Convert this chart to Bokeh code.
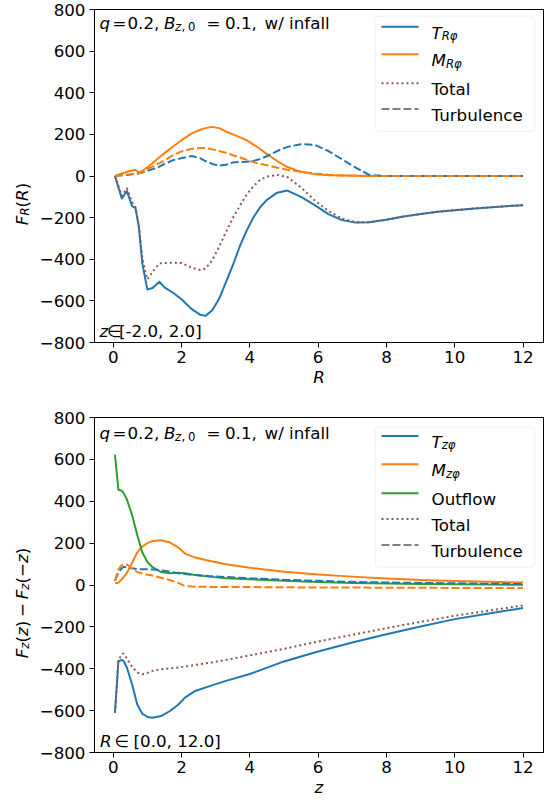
import math
from bokeh.plotting import figure
from bokeh.layouts import column, row
from bokeh.models import Range1d, FixedTicker, Label, Arrow, BoxAnnotation
from bokeh.embed import file_html
from bokeh.resources import INLINE

# ---------------- data: top panel (F_R vs R) ----------------
R_top = [0.05, 0.25, 0.4, 0.55, 0.65, 0.75, 0.85, 0.95, 1.0, 1.15, 1.35, 1.5, 1.75, 2.0,
         2.3, 2.55, 2.7, 2.9, 3.1, 3.3, 3.5, 3.7, 3.9, 4.1, 4.3, 4.5, 4.8, 5.1, 5.5, 5.9,
         6.3, 6.7, 7.1, 7.5, 8.0, 8.5, 9.0, 9.5, 10.0, 10.5, 11.0, 11.5, 12.0]
T_Rphi = [0, -108, -72, -145, -155, -245, -420, -505, -545, -538, -508, -535, -561, -592,
          -640, -667, -672, -645, -590, -510, -430, -340, -265, -200, -150, -115, -80, -70, -100, -140,
          -183, -212, -224, -222, -210, -195, -183, -172, -164, -157, -151, -145, -140]
M_Rphi = [0, 12, 20, 26, 30, 17, 25, 36, 42, 62, 90, 110, 142, 172,
          205, 222, 230, 236, 230, 214, 200, 187, 172, 152, 130, 105, 72, 43, 20, 9,
          4, 2, 1, 0, 0, 0, 0, 0, 0, 0, 0, 0, 0]
Total_R = [0, -95, -58, -125, -150, -240, -390, -470, -497, -460, -420, -418, -417, -418,
           -441, -452, -445, -405, -340, -270, -202, -145, -91, -50, -18, -3, 5, -5, -55, -118,
           -168, -205, -222, -222, -210, -195, -183, -172, -164, -157, -151, -145, -140]
T_Rphi_turb = [0, 3, 5, 8, 10, 13, 17, 22, 25, 33, 45, 58, 76, 86,
               96, 85, 72, 58, 50, 54, 65, 67, 68, 72, 82, 95, 120, 140, 153, 150,
               120, 80, 40, 5, 0, 0, 0, 0, 0, 0, 0, 0, 0]
M_Rphi_turb = [0, 4, 7, 9, 11, 13, 18, 28, 35, 45, 62, 75, 100, 118,
               131, 134, 134, 128, 120, 112, 100, 90, 78, 67, 58, 52, 40, 30, 20, 11,
               6, 3, 1, 0, 0, 0, 0, 0, 0, 0, 0, 0, 0]

# ---------------- data: bottom panel (F_z(z) - F_z(-z) vs z) ----------------
z_bot = [0.05, 0.15, 0.25, 0.3, 0.4, 0.55, 0.7, 0.85, 1.0, 1.15, 1.4, 1.65, 1.9, 2.1,
         2.4, 2.8, 3.3, 4, 5, 6, 7, 8, 9, 10, 11, 12]
T_zphi = [-610, -363, -358, -362, -395, -474, -570, -615, -630, -634, -626, -603, -572, -538,
          -506, -484, -458, -425, -365, -318, -275, -235, -198, -163, -136, -110]
M_zphi = [8, 11, 28, 37, 58, 105, 155, 184, 200, 210, 214, 204, 180, 150,
          131, 116, 99, 82, 63, 50, 40, 31, 24, 19, 15, 12]
Outflow_z = [623, 455, 450, 440, 408, 335, 240, 155, 110, 85, 62, 56, 59, 56,
             48, 40, 32, 27, 20, 14, 10, 7, 5, 3, 2, 1]
Total_z = [-610, -363, -330, -327, -352, -390, -418, -426, -420, -410, -402, -398, -394, -390,
           -382, -372, -358, -336, -305, -270, -238, -206, -176, -147, -122, -98]
T_zphi_turb = [20, 60, 80, 86, 86, 80, 76, 75, 75, 74, 70, 64, 56, 52,
               48, 43, 38, 32, 25, 20, 15, 12, 10, 8, 6, 5]
M_zphi_turb = [20, 75, 95, 99, 98, 78, 62, 55, 49, 45, 35, 24, 10, -5,
               -8, -9, -10, -10, -11, -12, -12, -13, -13, -14, -14, -14]

x_ticks = [0, 2, 4, 6, 8, 10, 12]
y_ticks = [-800, -600, -400, -200, 0, 200, 400, 600, 800]
y_tick_labels = {t: ("\u2212" + str(-t)) if t < 0 else str(t) for t in y_ticks}

C0, C1, C2, C5, C7 = "#1f77b4", "#ff7f0e", "#2ca02c", "#8c564b", "#7f7f7f"
FONT = "DejaVu Sans"
FS = 16.7
SUB = 11.7
DOT = "2 3"
DASH = "8 3"
DY = -5.5      # empirical vertical correction for horizontal screen-unit labels / legend lines
VX = -8.0      # empirical sideways correction for the rotated y-axis label pieces
LW = 36        # width of the strip that holds the rotated y-axis labels

EM = {' ': 0.318, '.': 0.318, ',': 0.318, '=': 0.838, '(': 0.390, ')': 0.390,
      '[': 0.390, ']': 0.390, '-': 0.361, '\u2212': 0.838, '\u2208': 0.871, '/': 0.337,
      'F': 0.575, 'R': 0.695, 'z': 0.525, 'T': 0.611, 'M': 0.863, 'B': 0.686, 'q': 0.635,
      '\u03c6': 0.66, 'w': 0.818, 'i': 0.278, 'n': 0.634, 'f': 0.352, 'a': 0.613, 'l': 0.278}
for d in "0123456789":
    EM[d] = 0.636


def tw(s, size):
    return sum(EM.get(c, 0.6) for c in s) * size


def put(p, fb, X, Y, txt, ital=False, size=FS):
    # X, Y: page pixel coordinates (y down) of the text origin; fb = (frame_left, frame_bottom)
    p.add_layout(Label(x=X - fb[0], y=fb[1] - (Y + DY), x_units="screen", y_units="screen",
                       text=txt, text_font=FONT, text_font_size=f"{size}px",
                       text_font_style="italic" if ital else "normal", text_color="black",
                       text_align="left", text_baseline="alphabetic"))


def rich(p, fb, X, Y, pieces):
    pos = 0.0
    for txt, ital, size, shift, extra in pieces:
        if txt:
            put(p, fb, X + pos, Y + shift, txt, ital, size)
        pos += tw(txt, size) + extra


def vrich(s, to_data, X, Yc, pieces):
    # rotated (reading upwards) label centred on page-y Yc; baseline at page-x X
    L = sum(tw(t, sz) + e for t, _, sz, _, e in pieces)
    pos = Yc + L / 2
    for txt, ital, size, shift, extra in pieces:
        s.add_layout(Label(x=X + shift + VX, y=to_data(pos), x_units="data", y_units="data",
                           text=txt, angle=math.pi / 2, text_font=FONT, text_font_size=f"{size}px",
                           text_font_style="italic" if ital else "normal", text_color="black",
                           text_align="left", text_baseline="alphabetic"))
        pos -= tw(txt, size) + extra


def legend(p, fb, box, rows):
    x0, y0, x1, y1 = box
    p.add_layout(BoxAnnotation(left=x0 - fb[0], right=x1 - fb[0], top=fb[1] - y0, bottom=fb[1] - y1,
                               left_units="screen", right_units="screen", top_units="screen",
                               bottom_units="screen", fill_color="white", fill_alpha=0.8,
                               line_color="#cccccc", line_width=1, border_radius=4))
    for yc, color, dash, pieces in rows:
        ys = fb[1] - (yc + DY)
        p.add_layout(Arrow(end=None, x_start=381 - fb[0], y_start=ys, x_end=418 - fb[0],
                           y_end=ys, start_units="screen", end_units="screen",
                           line_color=color, line_width=2, line_dash=dash))
        rich(p, fb, 431, yc + 5.8, pieces)


def make_fig(top, fh, bottom, xlabel):
    p = figure(frame_width=449, frame_height=fh, min_border_left=94 - LW, min_border_right=11,
               min_border_top=top, min_border_bottom=bottom,
               x_range=Range1d(-0.55, 12.6), y_range=Range1d(-800, 800),
               output_backend="svg", toolbar_location=None)
    p.xgrid.visible = False
    p.ygrid.visible = False
    p.outline_line_color = "black"
    p.outline_line_width = 1
    p.outline_line_alpha = 1
    p.background_fill_color = "white"
    p.border_fill_color = "white"
    p.xaxis.ticker = FixedTicker(ticks=x_ticks)
    p.yaxis.ticker = FixedTicker(ticks=y_ticks)
    p.yaxis.major_label_overrides = y_tick_labels
    for ax in (p.xaxis[0], p.yaxis[0]):
        ax.major_tick_out = 5
        ax.major_tick_in = 0
        ax.minor_tick_out = 0
        ax.minor_tick_in = 0
        ax.axis_line_color = "black"
        ax.major_tick_line_color = "black"
        ax.major_label_text_font = FONT
        ax.major_label_text_font_size = f"{FS}px"
        ax.major_label_text_color = "black"
    p.xaxis.major_label_standoff = 3
    p.yaxis.major_label_standoff = 4
    p.xaxis.axis_label = xlabel
    p.xaxis.axis_label_text_font = FONT
    p.xaxis.axis_label_text_font_size = f"{FS}px"
    p.xaxis.axis_label_text_font_style = "italic"
    p.xaxis.axis_label_text_color = "black"
    p.xaxis.axis_label_standoff = 1
    return p


def label_strip(top, fh, bottom):
    # same vertical frame geometry and y range as the panel beside it
    s = figure(frame_width=LW, frame_height=fh, min_border_left=0, min_border_right=0,
               min_border_top=top, min_border_bottom=bottom,
               x_range=Range1d(0, LW), y_range=Range1d(-800, 800),
               x_axis_location=None, y_axis_location=None, output_backend="svg",
               toolbar_location=None)
    s.grid.visible = False
    s.outline_line_color = None
    s.background_fill_color = "white"
    s.border_fill_color = "white"
    return s


# ---------------- top panel ----------------
p1 = make_fig(9, 333, 50, "R")
fb1 = (94, 342)
p1.line(R_top, T_Rphi, line_color=C0, line_width=2, line_join="round")
p1.line(R_top, M_Rphi, line_color=C1, line_width=2, line_join="round")
p1.line(R_top, Total_R, line_color=C5, line_width=2, line_dash=DOT)
p1.line(R_top, T_Rphi_turb, line_color=C0, line_width=2, line_dash=DASH)
p1.line(R_top, M_Rphi_turb, line_color=C1, line_width=2, line_dash=DASH)

# ---------------- bottom panel ----------------
p2 = make_fig(25, 335, 50, "z")
fb2 = (94, 752)
p2.line(z_bot, T_zphi, line_color=C0, line_width=2, line_join="round")
p2.line(z_bot, M_zphi, line_color=C1, line_width=2, line_join="round")
p2.line(z_bot, Outflow_z, line_color=C2, line_width=2, line_join="round")
p2.line(z_bot, Total_z, line_color=C5, line_width=2, line_dash=DOT)
p2.line(z_bot, T_zphi_turb, line_color=C0, line_width=2, line_dash=DASH)
p2.line(z_bot, M_zphi_turb, line_color=C1, line_width=2, line_dash=DASH)


def header(p, fb, base):
    put(p, fb, 99.0, base, "q", True)
    put(p, fb, 112.0, base, "=")
    put(p, fb, 127.0, base, "0.2,")
    put(p, fb, 163.5, base, "B", True)
    put(p, fb, 174.5, base + 3.5, "z", True, SUB)
    put(p, fb, 181.0, base + 3.5, ",", False, SUB)
    put(p, fb, 187.5, base + 3.5, "0", False, SUB)
    put(p, fb, 206.0, base, "=")
    put(p, fb, 224.5, base, "0.1,")
    put(p, fb, 264.0, base, "w/ infall")


header(p1, fb1, 28)
header(p2, fb2, 438)

put(p1, fb1, 99, 335.5, "z", True)
put(p1, fb1, 106.5, 335.5, "\u2208")
put(p1, fb1, 118.5, 335.5, "[-2.0, 2.0]")

put(p2, fb2, 99.5, 745.5, "R", True)
put(p2, fb2, 114, 745.5, "\u2208")
put(p2, fb2, 133, 745.5, "[0.0, 12.0]")

# legends
legend(p1, fb1, (374.7, 15.7, 534.3, 131.0), [
    (31.7, C0, "solid", [("T", True, FS, 0, 0), ("R\u03c6", True, SUB, 3.5, 0)]),
    (59.3, C1, "solid", [("M", True, FS, 0, 0), ("R\u03c6", True, SUB, 3.5, 0)]),
    (88.3, C5, DOT, [("Total", False, FS, 0, 0)]),
    (114.0, C7, DASH, [("Turbulence", False, FS, 0, 0)]),
])
legend(p2, fb2, (374.7, 426.7, 534.3, 566.7), [
    (441.0, C0, "solid", [("T", True, FS, 0, 0), ("z\u03c6", True, SUB, 3.5, 0)]),
    (469.3, C1, "solid", [("M", True, FS, 0, 0), ("z\u03c6", True, SUB, 3.5, 0)]),
    (498.3, C2, "solid", [("Outflow", False, FS, 0, 0)]),
    (524.0, C5, DOT, [("Total", False, FS, 0, 0)]),
    (550.0, C7, DASH, [("Turbulence", False, FS, 0, 0)]),
])

# y-axis labels (rotated, mixed styles) in strips whose frames line up with the panels
s1 = label_strip(9, 333, 50)
s2 = label_strip(25, 335, 50)
yl1 = [("F", True, FS, 0, 0), ("R", True, SUB, 3.5, 0), ("(", False, FS, 0, 0),
       ("R", True, FS, 0, 0), (")", False, FS, 0, 0)]
vrich(s1, lambda Y: 800 - (Y - 9) * 1600 / 333, 29, 174.5 + 29, yl1)

yl2 = [("F", True, FS, 0, 0), ("z", True, SUB, 3.5, 0), ("(", False, FS, 0, 0),
       ("z", True, FS, 0, 0), (")", False, FS, 0, 3.7), ("\u2212", False, FS, 0, 3.7),
       ("F", True, FS, 0, 0), ("z", True, SUB, 3.5, 0), ("(", False, FS, 0, 0),
       ("\u2212", False, FS, 0, 0), ("z", True, FS, 0, 0), (")", False, FS, 0, 0)]
vrich(s2, lambda Y: 800 - (Y - 417) * 1600 / 335, 29, 584.5 + 18, yl2)

layout = column(row(s1, p1), row(s2, p2))
open("out.html", "w").write(file_html(layout, INLINE))
